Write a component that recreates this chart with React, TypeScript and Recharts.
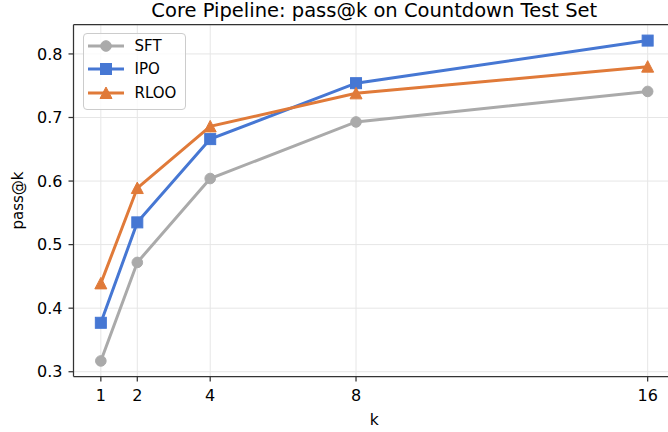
import React from 'react';
import { LineChart, Line, XAxis, YAxis, CartesianGrid, Legend, ReferenceLine, Label } from 'recharts';

const K_VALUES = [1, 2, 4, 8, 16];
const SFT_VALUES = [0.317, 0.472, 0.604, 0.693, 0.741];
const IPO_VALUES = [0.377, 0.535, 0.666, 0.754, 0.821];
const RLOO_VALUES = [0.439, 0.589, 0.686, 0.738, 0.78];
const X_TICKS = [1, 2, 4, 8, 16];
const Y_TICKS = [0.3, 0.4, 0.5, 0.6, 0.7, 0.8];
const SERIES_NAMES = ['SFT', 'IPO', 'RLOO'];
const TITLE = 'Core Pipeline: pass@k on Countdown Test Set';

const COLORS: Record<string, string> = { SFT: '#aaaaaa', IPO: '#4677d3', RLOO: '#e07a39' };
const FONT = '"DejaVu Sans", sans-serif';
const SPINE = '#333333';

const data = K_VALUES.map((k, i) => ({ k, SFT: SFT_VALUES[i], IPO: IPO_VALUES[i], RLOO: RLOO_VALUES[i] }));

const Marker = ({ name, cx, cy }: { name: string; cx: number; cy: number }) => {
  const c = COLORS[name];
  if (name === 'SFT') return <circle cx={cx} cy={cy} r={5.3} fill={c} stroke={c} strokeWidth={1} />;
  if (name === 'IPO') return <rect x={cx - 5.5} y={cy - 5.5} width={11} height={11} fill={c} stroke={c} strokeWidth={1} />;
  return (
    <polygon
      points={`${cx},${cy - 6} ${cx - 6},${cy + 5.5} ${cx + 6},${cy + 5.5}`}
      fill={c}
      stroke={c}
      strokeWidth={1}
      strokeLinejoin="miter"
    />
  );
};

const makeDot = (name: string) => (props: any) => {
  const { cx, cy, index } = props;
  if (cx == null || cy == null) return <g key={`${name}-${index}`} />;
  return (
    <g key={`${name}-${index}`}>
      <Marker name={name} cx={cx} cy={cy} />
    </g>
  );
};

const LegendBox = () => (
  <div
    style={{
      position: 'relative',
      width: 103,
      height: 77.5,
      boxSizing: 'border-box',
      border: '1px solid #cccccc',
      borderRadius: 4,
      background: 'rgba(255,255,255,0.8)',
      fontFamily: FONT,
      fontSize: 15,
      color: '#000',
    }}
  >
    {SERIES_NAMES.map((name, i) => {
      const cyRow = 13.3 + i * 23.4;
      return (
        <div key={name} style={{ position: 'absolute', left: 0, top: cyRow - 12 - 1, height: 24, width: 101 }}>
          <svg width={40} height={24} style={{ position: 'absolute', left: 3, top: 0 }}>
            <line x1={1} y1={12} x2={37} y2={12} stroke={COLORS[name]} strokeWidth={3} />
            <Marker name={name} cx={19} cy={12} />
          </svg>
          <span style={{ position: 'absolute', left: 51, top: 0, height: 24, lineHeight: '24px', whiteSpace: 'nowrap' }}>
            {name}
          </span>
        </div>
      );
    })}
  </div>
);

export default function App() {
  return (
    <div style={{ position: 'absolute', left: 0, top: 0, width: 668, height: 432, overflow: 'hidden', background: '#fff' }}>
      <LineChart width={681} height={432} data={data} margin={{ top: 24.7, right: 6, left: 0, bottom: 0 }}>
        <CartesianGrid stroke="#e6e6e6" strokeWidth={1} />
        <XAxis
          dataKey="k"
          type="number"
          domain={[0.25, 16.75]}
          ticks={X_TICKS}
          allowDataOverflow
          height={55.5}
          tickSize={5}
          tickMargin={8}
          stroke={SPINE}
          axisLine={{ stroke: SPINE, strokeWidth: 1.25 }}
          tickLine={{ stroke: SPINE, strokeWidth: 1.25 }}
          tick={{ fill: '#000', fontSize: 16, fontFamily: FONT }}
        >
          <Label
            content={(props: any) => {
              const vb = props.viewBox || { x: 73.5, width: 601.5 };
              return (
                <text x={vb.x + vb.width / 2} y={425} textAnchor="middle" fontSize={15.5} fontFamily={FONT} fill="#000">
                  k
                </text>
              );
            }}
          />
        </XAxis>
        <YAxis
          type="number"
          domain={[0.2925, 0.846]}
          ticks={Y_TICKS}
          allowDataOverflow
          width={73.5}
          tickSize={5}
          tickMargin={6}
          tickFormatter={(v: number) => v.toFixed(1)}
          axisLine={{ stroke: SPINE, strokeWidth: 1.25 }}
          tickLine={{ stroke: SPINE, strokeWidth: 1.25 }}
          tick={{ fill: '#000', fontSize: 16, fontFamily: FONT }}
        >
          <Label
            content={() => (
              <text
                x={23}
                y={200.5}
                transform="rotate(-90 23 200.5)"
                textAnchor="middle"
                fontSize={15}
                fontFamily={FONT}
                fill="#000"
              >
                pass@k
              </text>
            )}
          />
        </YAxis>
        <ReferenceLine y={0.846} stroke={SPINE} strokeWidth={1.25} ifOverflow="visible" />
        <ReferenceLine x={16.75} stroke={SPINE} strokeWidth={1.25} ifOverflow="visible" />
        {SERIES_NAMES.map((name) => (
          <Line
            key={name}
            type="linear"
            dataKey={name}
            name={name}
            stroke={COLORS[name]}
            strokeWidth={3}
            dot={makeDot(name)}
            activeDot={false}
            isAnimationActive={false}
          />
        ))}
        <Legend
          layout="vertical"
          align="center"
          verticalAlign="middle"
          content={() => <LegendBox />}
          wrapperStyle={{ left: 82.5, top: 32.8, width: 103, height: 77.5 }}
        />
      </LineChart>
      <svg width={668} height={432} style={{ position: 'absolute', left: 0, top: 0, pointerEvents: 'none' }}>
        <text x={374.3} y={16.7} textAnchor="middle" fontSize={19.5} fontFamily={FONT} fill="#000">
          {TITLE}
        </text>
      </svg>
    </div>
  );
}
